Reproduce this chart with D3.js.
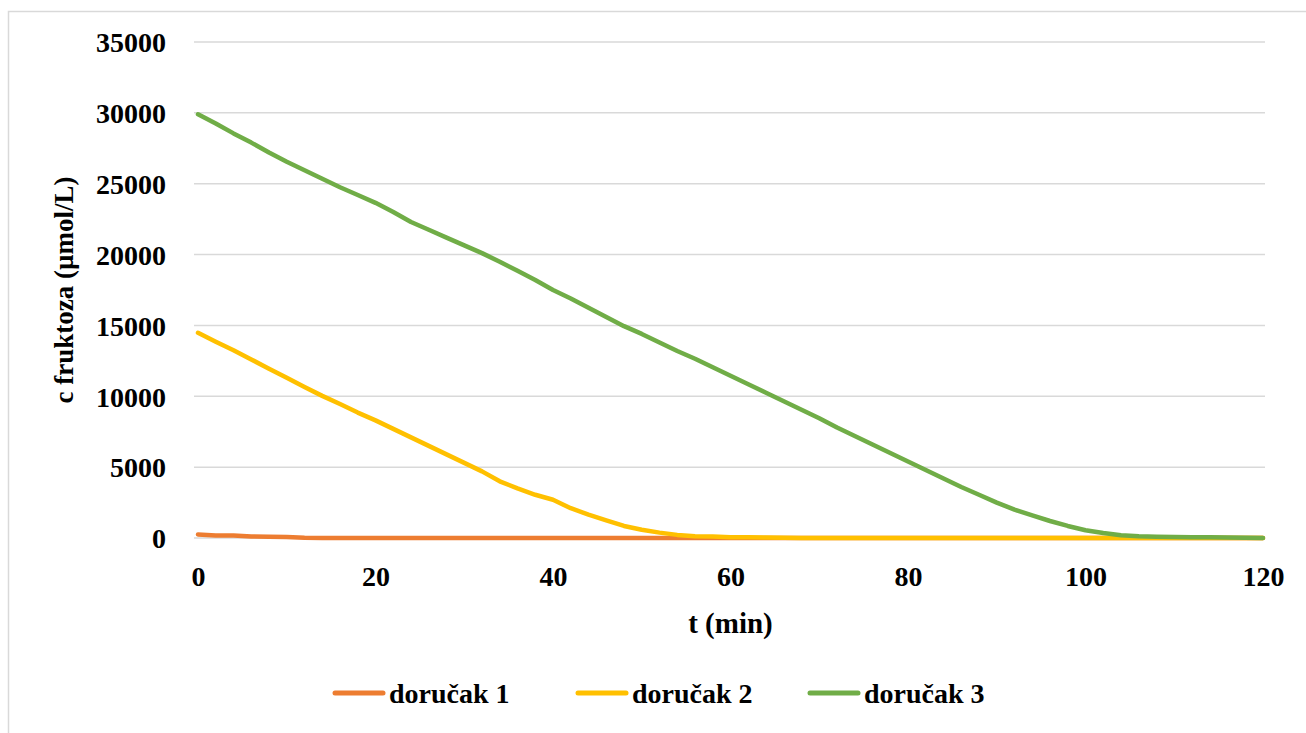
<!DOCTYPE html>
<html>
<head>
<meta charset="utf-8">
<script src="https://cdn.jsdelivr.net/npm/d3@7"></script>
<style>
  html, body { margin: 0; padding: 0; background: #fff; }
  svg { display: block; }
</style>
</head>
<body>
<svg id="chart" width="1306" height="733"></svg>
<script>
// ---- data ----
const times = d3.range(0, 121, 2); // t (min)
const seriesNames = ["doručak 1", "doručak 2", "doručak 3"];
const seriesColors = ["#ED7D31", "#FFC000", "#70AD47"];
const dorucak1 = [250,170,180,100,90,70,20,0,0,0,0,0,0,0,0,0,0,0,0,0,0,0,0,0,0,0,0,0,0,0,0,0,0,0,0,0,0,0,0,0,0,0,0,0,0,0,0,0,0,0,0,0,0,0,0,0,0,0,0,0,0];
const dorucak2 = [14480,13850,13250,12600,11950,11300,10650,10030,9450,8850,8300,7700,7100,6500,5900,5300,4700,4000,3500,3050,2700,2100,1650,1250,850,580,380,220,130,100,60,50,40,20,0,0,0,0,0,0,0,0,0,0,0,0,0,0,0,0,0,0,0,0,0,0,0,0,0,0,0];
const dorucak3 = [29900,29250,28550,27900,27200,26550,25950,25350,24750,24200,23650,23000,22300,21750,21200,20650,20100,19500,18850,18200,17500,16900,16250,15600,14950,14400,13800,13200,12650,12050,11450,10850,10250,9650,9050,8450,7800,7200,6600,6000,5400,4800,4200,3600,3050,2500,2000,1600,1200,850,550,350,200,120,90,70,60,50,30,10,0];
const xTicks = [0, 20, 40, 60, 80, 100, 120];
const yTicks = [0, 5000, 10000, 15000, 20000, 25000, 30000, 35000];
const xTitle = "t (min)";
const yTitle = "c fruktoza (µmol/L)";

const allSeries = [dorucak1, dorucak2, dorucak3];
const FONT = "'Liberation Serif', 'Times New Roman', Tinos, 'Nimbus Roman', 'Noto Serif', 'DejaVu Serif', serif";

// ---- layout ----
const svg = d3.select("#chart");
const plot = { left: 198, right: 1263, top: 42, bottom: 538 };

svg.append("rect")
  .attr("x", 8.5).attr("y", 11.5)
  .attr("width", 1400).attr("height", 900)
  .attr("fill", "#fff").attr("stroke", "#d9d9d9").attr("stroke-width", 1.5);

const x = d3.scaleLinear().domain([0, 120]).range([plot.left, plot.right]);
const y = d3.scaleLinear().domain([0, 35000]).range([plot.bottom, plot.top]);

// gridlines
svg.append("g")
  .selectAll("line").data(yTicks).join("line")
  .attr("x1", 194).attr("x2", 1265)
  .attr("y1", d => y(d)).attr("y2", d => y(d))
  .attr("stroke", "#d9d9d9").attr("stroke-width", 1.5);

function styleText(sel, size) {
  sel.attr("font-family", null)
     .style("font-family", FONT)
     .style("font-weight", "bold")
     .style("font-size", size + "px")
     .attr("fill", "#000");
}

// y axis labels
const yAxis = d3.axisLeft(y).tickValues(yTicks).tickSize(0).tickPadding(0).tickFormat(d3.format("d"));
const gy = svg.append("g").attr("transform", `translate(166,0)`).call(yAxis);
gy.attr("font-family", null).attr("font-size", null);
gy.select(".domain").remove();
styleText(gy.selectAll("text").attr("dy", "0.35em"), 28);

// x axis labels
const xAxis = d3.axisBottom(x).tickValues(xTicks).tickSize(0).tickPadding(0).tickFormat(d3.format("d"));
const gx = svg.append("g").attr("transform", `translate(0,586)`).call(xAxis);
gx.attr("font-family", null).attr("font-size", null);
gx.select(".domain").remove();
styleText(gx.selectAll("text").attr("dy", 0), 28);

// axis titles
styleText(svg.append("text").attr("x", (plot.left + plot.right) / 2).attr("y", 633)
  .attr("text-anchor", "middle").text(xTitle), 29);
styleText(svg.append("text")
  .attr("transform", `translate(73,${(plot.top + plot.bottom) / 2}) rotate(-90)`)
  .attr("text-anchor", "middle").text(yTitle), 27);

// lines
const line = d3.line().x((d, i) => x(times[i])).y(d => y(d)).curve(d3.curveLinear);
svg.append("g").selectAll("path").data(allSeries).join("path")
  .attr("d", d => line(d))
  .attr("fill", "none")
  .attr("stroke", (d, i) => seriesColors[i])
  .attr("stroke-width", 4.5)
  .attr("stroke-linejoin", "round")
  .attr("stroke-linecap", "round");

// legend
const legendX = [335, 578, 810];
const legendY = 693;
const lg = svg.append("g").selectAll("g").data(seriesNames).join("g")
  .attr("transform", (d, i) => `translate(${legendX[i]},${legendY})`);
lg.append("line").attr("x1", 0).attr("x2", 48).attr("y1", 0).attr("y2", 0)
  .attr("stroke", (d, i) => seriesColors[i]).attr("stroke-width", 5).attr("stroke-linecap", "round");
styleText(lg.append("text").attr("x", 54).attr("y", 10).text(d => d), 28);
</script>
</body>
</html>
